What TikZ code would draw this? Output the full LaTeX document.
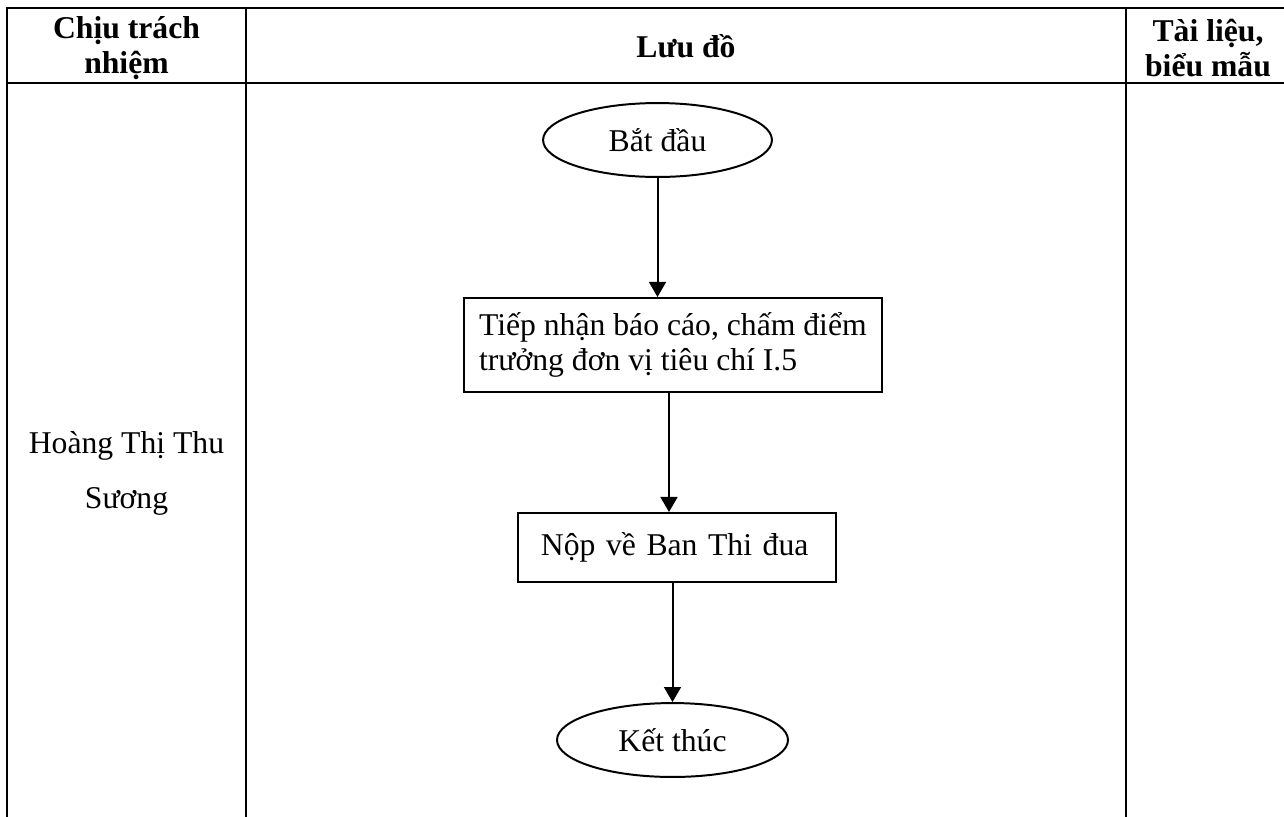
\documentclass[tikz,border=0pt]{standalone}
\usepackage{fontspec}
\setmainfont{Liberation Serif}
\usetikzlibrary{shapes,positioning,arrows.meta,calc}

\begin{document}
\begin{tikzpicture}[x=0.3788pt, y=-0.3788pt,
        font=\fontsize{12}{13.3}\selectfont]
        % Sheet formulae (in pixels of the scan, y going down)
        \pgfmathsetmacro{\pagew}{1284}
        \pgfmathsetmacro{\pageh}{816}
        \pgfmathsetmacro{\left}{7}
        \pgfmathsetmacro{\right}{1290}
        \pgfmathsetmacro{\top}{8}
        \pgfmathsetmacro{\bottom}{840}
        \pgfmathsetmacro{\colA}{246}
        \pgfmathsetmacro{\colB}{1126}
        \pgfmathsetmacro{\headh}{83}

        % Looks of the table and of the flow chart
        \tikzset{
            grid/.style={line width=1pt},
            head/.style={font=\fontsize{12}{13.3}\selectfont\bfseries, align=center},
            terminal/.style={draw, ellipse, line width=0.75pt, minimum width=86.7pt,
                minimum height=28pt, inner sep=0pt},
            process/.style={draw, rectangle, line width=0.75pt, align=left,
                inner ysep=0pt, anchor=north west},
            flow/.style={line width=0.75pt, -{Triangle[length=5.7pt, width=6.4pt]}},
        }

        \useasboundingbox (0,0) rectangle (\pagew,\pageh);
        \clip (0,0) rectangle (\pagew,\pageh);

        % Table frame
        \begin{scope}[grid]
            \draw (\left,\bottom) -- (\left,\top) -- (\right,\top) -- (\right,\bottom);
            \draw (\left,\headh) -- (\right,\headh);
            \draw (\colA,\top) -- (\colA,\bottom);
            \draw (\colB,\top) -- (\colB,\bottom);
        \end{scope}

        % Header row
        \node[head] (hResp) at (126.5, 48) {Chịu trách\\nhiệm};
        \node[head] (hFlow) at (686, 46) {Lưu đồ};
        \node[head] (hDocs) at (1208, 48) {Tài liệu,\\biểu mẫu};

        % Person in charge
        \node[align=center, font=\fontsize{12}{20.8}\selectfont] (who) at (126.5, 473)
            {Hoàng Thị Thu\\Sương};

        % Flow chart
        \node[terminal] (start) at (657.5, 140) {Bắt đầu};
        \node[process, inner xsep=5.7pt, minimum height=35.6pt]
            (recv) at (463, 297) {Tiếp nhận báo cáo, chấm điểm\\trưởng đơn vị tiêu chí I.5};
        \node[process, text width=103pt, inner xsep=8.7pt, minimum height=26.1pt]
            (submit) at (517, 512) {Nộp về Ban Thi đua};
        \node[terminal, minimum width=87.5pt] (stop) at (672.5, 740) {Kết thúc};

        \draw[flow] (start.south) -- (start.south |- recv.north);
        \draw[flow] ([xshift=-3pt]submit.north |- recv.south) -- ([xshift=-3pt]submit.north);
        \draw[flow] (stop.north |- submit.south) -- (stop.north);
\end{tikzpicture}
\end{document}
